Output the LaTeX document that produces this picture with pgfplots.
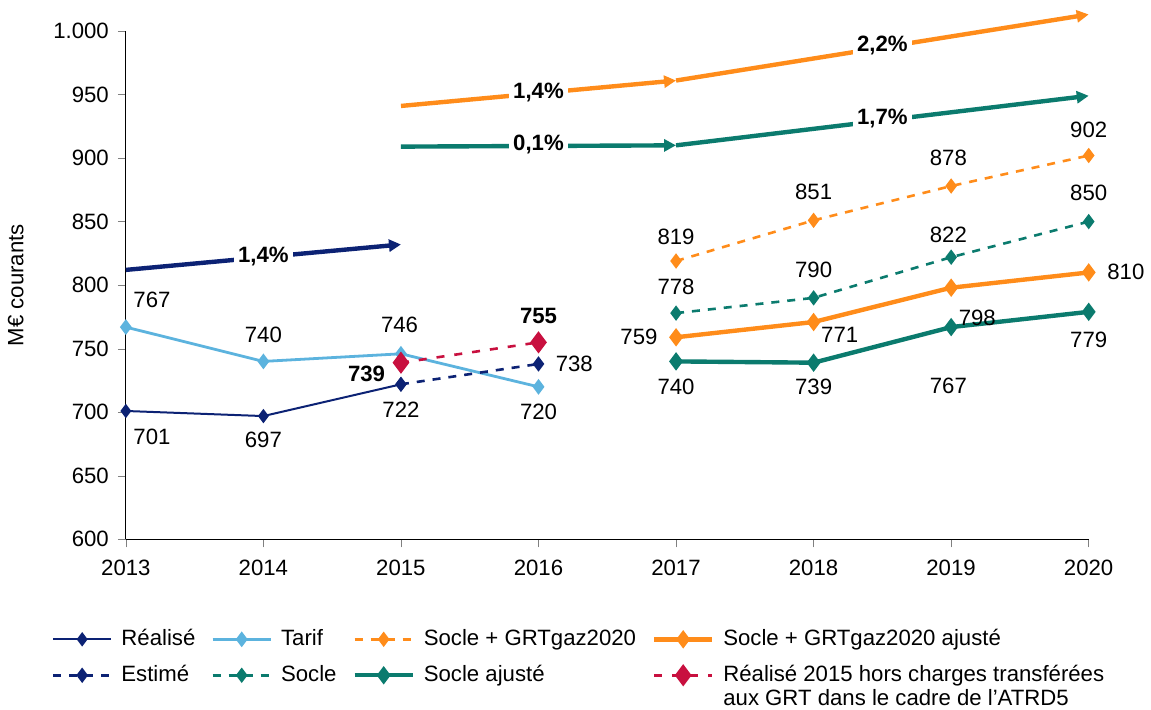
\documentclass[border=0pt]{standalone}
\usepackage{pgfplots}
\pgfplotsset{compat=1.18}
\usepackage{fontspec}
\setmainfont{Liberation Sans}
\usetikzlibrary{arrows.meta}
\definecolor{navy}{HTML}{0C2274}
\definecolor{sky}{HTML}{5CB3DE}
\definecolor{orng}{HTML}{FF8C1A}
\definecolor{teal}{HTML}{0B7B6E}
\definecolor{crim}{HTML}{C8103F}
\newcommand\lbl{\fontsize{11.1}{13.3}\selectfont}
\begin{document}
\begin{tikzpicture}[font=\lbl]
\begin{axis}[
  scale only axis, width=482pt, height=254.5pt,
  xmin=2013, xmax=2020, ymin=600, ymax=1000,
  xtick={2013,...,2020}, ytick={600,650,...,1000},
  axis x line*=bottom, axis y line*=left,
  tick align=outside, major tick length=4pt,
  x tick label style={/pgf/number format/1000 sep={}, yshift=-3pt},
  y tick label style={/pgf/number format/1000 sep={.}, xshift=-1pt},
  /pgf/number format/assume math mode=true,
  ylabel={M€ courants}, ylabel style={yshift=8pt},
  clip=false,
  every axis plot/.append style={mark=diamond*},
  legend columns=4,
  legend style={draw=none, inner sep=0pt, outer sep=0pt,
    at={(-0.0768,-0.175)}, anchor=north west,
    nodes={inner xsep=0pt, inner ysep=0pt, text height=8.5pt, text depth=2.5pt},
    /tikz/every even column/.append style={column sep=8pt},
    /tikz/every odd column/.append style={column sep=4.5pt},
    cells={anchor=west}, row sep=7pt},
  legend image code/.code={\draw[mark repeat=2,mark phase=2,#1] plot coordinates {(0pt,0pt) (14.5pt,0pt) (29pt,0pt)};},
]
% Réalisé
\addplot[navy, line width=1pt, mark size=2.8pt] coordinates {(2013,701) (2014,697) (2015,722)};
% Tarif
\addplot[sky, line width=1.4pt, mark size=2.8pt] coordinates {(2013,767) (2014,740) (2015,746) (2016,720)};
% Socle + GRTgaz2020
\addplot[orng, line width=1.3pt, dash pattern=on 4pt off 4pt, mark size=2.8pt, mark options={solid}] coordinates {(2017,819) (2018,851) (2019,878) (2020,902)};
% Socle + GRTgaz2020 ajusté
\addplot[orng, line width=2.2pt, mark size=2.8pt] coordinates {(2017,759) (2018,771) (2019,798) (2020,810)};
% Estimé
\addplot[navy, line width=1.3pt, dash pattern=on 4pt off 4pt, mark size=2.8pt, mark options={solid}] coordinates {(2015,722) (2016,738)};
% Socle
\addplot[teal, line width=1.3pt, dash pattern=on 4pt off 4pt, mark size=2.8pt, mark options={solid}] coordinates {(2017,778) (2018,790) (2019,822) (2020,850)};
% Socle ajusté
\addplot[teal, line width=2.2pt, mark size=2.8pt] coordinates {(2017,740) (2018,739) (2019,767) (2020,779)};
% Réalisé 2015 hors charges
\addplot[crim, line width=1.3pt, dash pattern=on 4pt off 5pt, mark size=4.5pt, mark options={solid}] coordinates {(2015,739) (2016,755)};
\legend{Réalisé, Tarif, Socle + GRTgaz2020, Socle + GRTgaz2020 ajusté, Estimé, Socle, Socle ajusté, {\rlap{\raisebox{-12.3pt}[0pt][0pt]{aux GRT dans le cadre de l’ATRD5}}Réalisé 2015 hors charges transférées}}

% growth arrows
\addplot[navy, line width=2.2pt, mark=none, -{Triangle[length=6pt,width=6pt]}, forget plot] coordinates {(2013,812) (2015,832)};
\addplot[orng, line width=2.2pt, mark=none, -{Triangle[length=6pt,width=6pt]}, forget plot] coordinates {(2015,941) (2017,961)};
\addplot[orng, line width=2.2pt, mark=none, -{Triangle[length=6pt,width=6pt]}, forget plot] coordinates {(2017,961) (2020,1013)};
\addplot[teal, line width=2.2pt, mark=none, -{Triangle[length=6pt,width=6pt]}, forget plot] coordinates {(2015,909) (2017,910)};
\addplot[teal, line width=2.2pt, mark=none, -{Triangle[length=6pt,width=6pt]}, forget plot] coordinates {(2017,910) (2020,949)};

\begin{scope}[every node/.style={fill=white, inner sep=2pt, font=\lbl\bfseries}]
\node at (axis cs:2014,822.4) {1,4\%};
\node at (axis cs:2016,951.3) {1,4\%};
\node at (axis cs:2016,910.4) {0,1\%};
\node at (axis cs:2018.5,988.2) {2,2\%};
\node at (axis cs:2018.5,930.8) {1,7\%};
\end{scope}

\node[font=\lbl\bfseries] at (axis cs:2014.75,730.5) {739};
\node[font=\lbl\bfseries] at (axis cs:2016,776) {755};
\node at (axis cs:2013.19,788.6) {767};
\node at (axis cs:2013.19,680.9) {701};
\node at (axis cs:2014,761.1) {740};
\node at (axis cs:2014,678.6) {697};
\node at (axis cs:2014.99,769) {746};
\node at (axis cs:2015,702.2) {722};
\node at (axis cs:2016.26,738.3) {738};
\node at (axis cs:2016,700.6) {720};
\node at (axis cs:2017,838.1) {819};
\node at (axis cs:2016.73,759.5) {759};
\node at (axis cs:2017,798.8) {778};
\node at (axis cs:2017,720.2) {740};
\node at (axis cs:2018,873.5) {851};
\node at (axis cs:2018,812.2) {790};
\node at (axis cs:2018.19,761.1) {771};
\node at (axis cs:2018,720.2) {739};
\node at (axis cs:2018.98,900.2) {878};
\node at (axis cs:2018.98,839.7) {822};
\node at (axis cs:2019.19,774.5) {798};
\node at (axis cs:2018.98,721) {767};
\node at (axis cs:2020,922.2) {902};
\node at (axis cs:2020,872.7) {850};
\node at (axis cs:2020.27,810.6) {810};
\node at (axis cs:2020,757.2) {779};

% page frame as in the reference
\path ([xshift=-63pt,yshift=-85pt]rel axis cs:0,0) ([xshift=30.5pt,yshift=15.5pt]rel axis cs:1,1);
\end{axis}
\end{tikzpicture}
\end{document}
